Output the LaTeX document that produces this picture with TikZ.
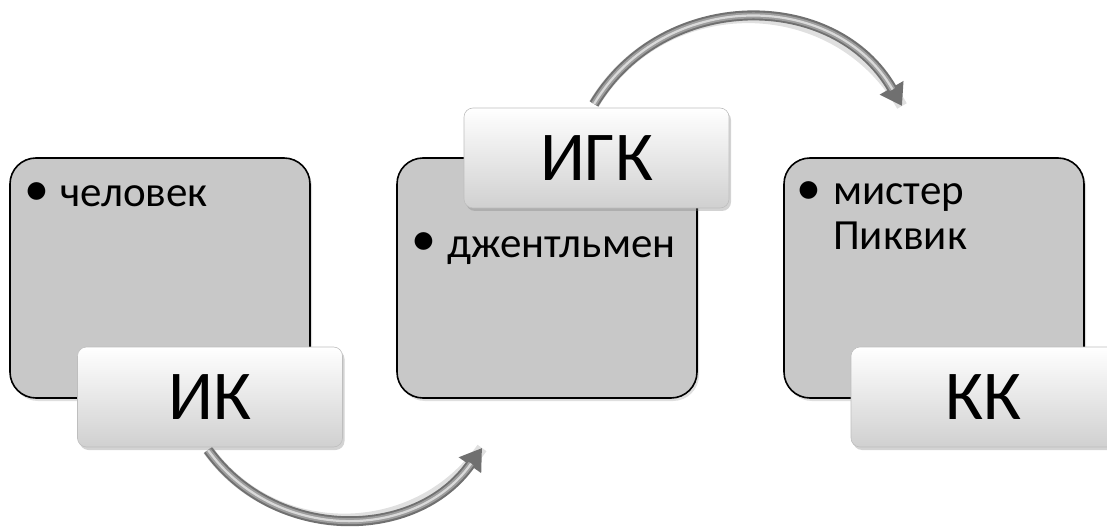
\documentclass[tikz,border=0pt]{standalone}
\usepackage{fontspec}
\setmainfont{Carlito}
\usetikzlibrary{arrows.meta,shadows}
\definecolor{boxgray}{RGB}{200,200,200}
\definecolor{tubedark}{RGB}{112,112,112}
\definecolor{tubemid}{RGB}{158,158,158}
\definecolor{tubelight}{RGB}{218,218,218}
\definecolor{labelbot}{RGB}{208,208,208}
\definecolor{labeledge}{RGB}{190,190,190}
\tikzset{
  graybox/.style={draw=black, line width=1.6pt, fill=boxgray, rounded corners=26pt,
    minimum width=300pt, minimum height=240pt, inner sep=0pt,
    drop shadow={opacity=0.25, shadow xshift=2pt, shadow yshift=-3pt}},
  labelbox/.style={draw=labeledge, line width=0.6pt, rounded corners=9pt,
    top color=white, bottom color=labelbot,
    minimum width=265pt, minimum height=100pt, inner sep=0pt,
    font=\fontsize{70}{80}\selectfont,
    drop shadow={opacity=0.35, shadow xshift=2pt, shadow yshift=-3pt}},
  itemtext/.style={anchor=base west, inner sep=0pt, align=left,
    font=\fontsize{43}{45}\selectfont},
  bullettext/.style={anchor=center, inner sep=0pt, font=\fontsize{50}{52}\selectfont},
  tubeshadow/.style={line width=11pt, draw=black, opacity=0.12},
  tubeout/.style={line width=10pt, draw=tubedark, -{Triangle[length=21pt,width=26pt]}},
  tubemidl/.style={line width=6pt, draw=tubemid, shorten >=19pt},
  tubelightl/.style={line width=2.2pt, draw=tubelight, shorten >=19pt},
}
\begin{document}
\begin{tikzpicture}[x=1pt,y=-1pt]
\useasboundingbox (0,0) rectangle (1107,529);
\clip (0,0) rectangle (1107,529);

% arrow end points
\coordinate (a1s) at (208,450);
\coordinate (a1e) at (482,448);
\coordinate (a2s) at (594,104);
\coordinate (a2e) at (902,106);

% arrow shadows
\begin{scope}[shift={(3,4)}]
\draw[tubeshadow] (a1s) .. controls +(67,93) and +(-66,94) .. (a1e);
\draw[tubeshadow] (a2s) .. controls +(70,-116) and +(-67,-117) .. (a2e);
\end{scope}
% arrows
\foreach \st in {tubeout,tubemidl,tubelightl}{
  \draw[\st] (a1s) .. controls +(67,93) and +(-66,94) .. (a1e);
  \draw[\st] (a2s) .. controls +(70,-116) and +(-67,-117) .. (a2e);
}

% gray boxes
\node[graybox] (b1) at (160,278) {};
\node[graybox] (b2) at (547,278) {};
\node[graybox] (b3) at (934,278) {};

% bullet texts
\node[bullettext] (d1) at (37,194) {•};
\node[itemtext] (t1) at (60,207) {человек};
\node[bullettext] (d2) at (424,244.5) {•};
\node[itemtext] (t2) at (447,257) {джентльмен};
\node[bullettext] (d3) at (809,193) {•};
\node[itemtext] (t3) at (833,250) {мистер\\Пиквик};

% labels
\node[labelbox] (l1) at (210,397) {ИК};
\node[labelbox] (l2) at (596.5,158) {ИГК};
\node[labelbox] (l3) at (983.5,397) {КК};
\end{tikzpicture}
\end{document}
